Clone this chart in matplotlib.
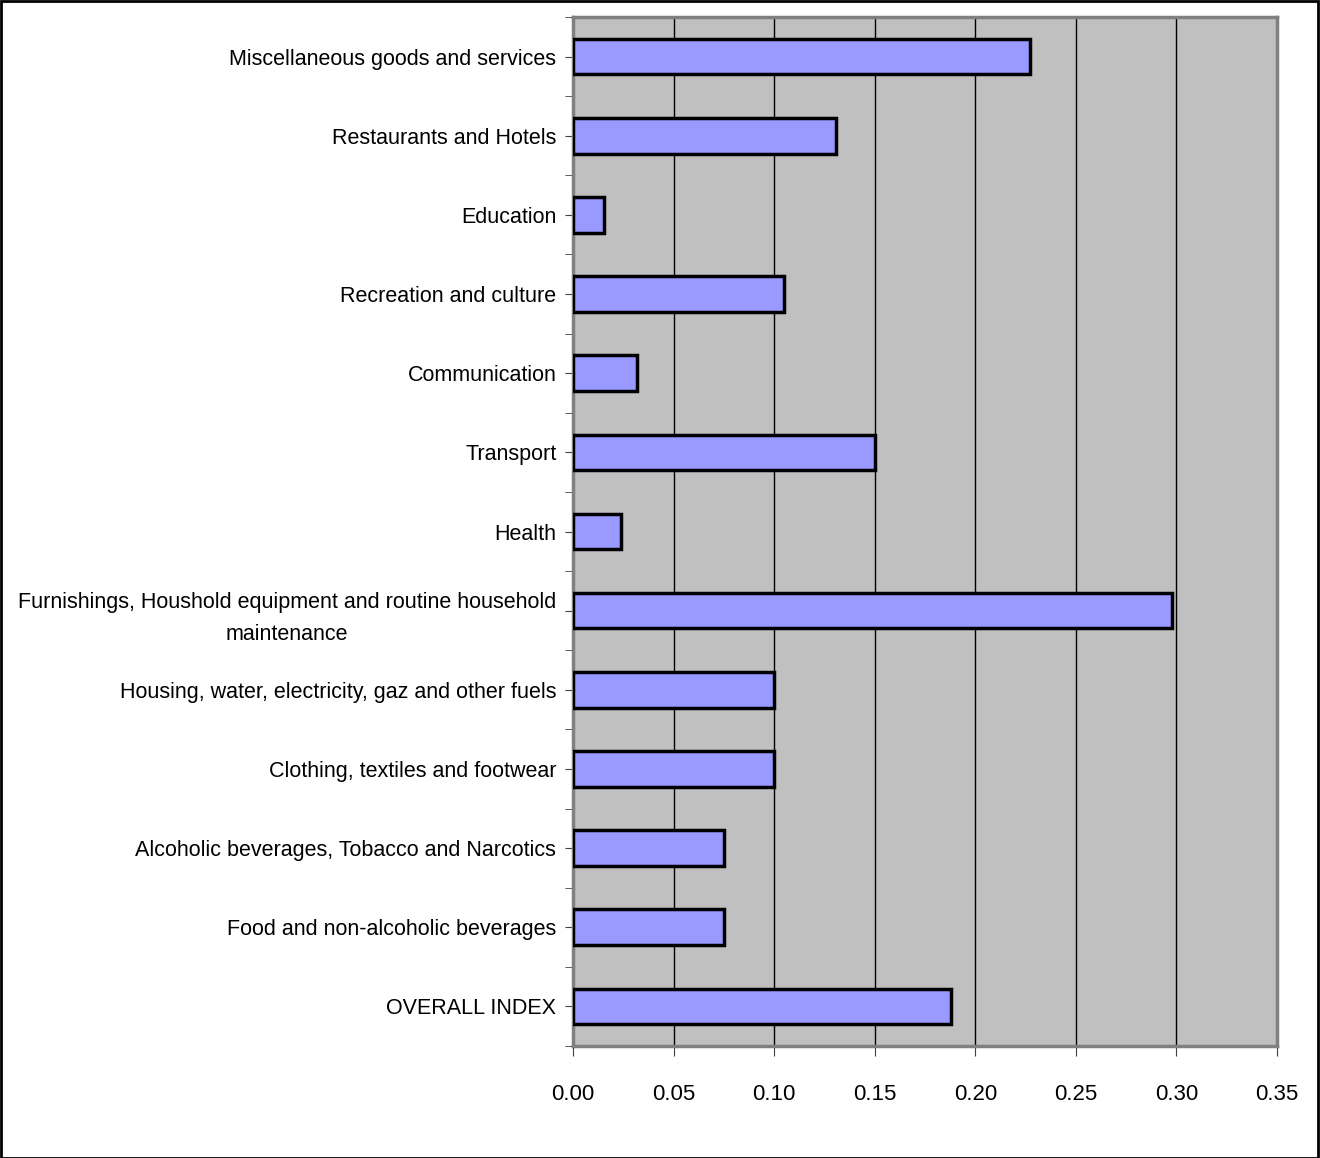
import numpy as np
import matplotlib
matplotlib.use("Agg")
import matplotlib.pyplot as plt
from matplotlib.patches import Rectangle

# categories from bottom to top
categories = [
    "OVERALL INDEX",
    "Food and non-alcoholic beverages",
    "Alcoholic beverages, Tobacco and Narcotics",
    "Clothing, textiles and footwear",
    "Housing, water, electricity, gaz and other fuels",
    "Furnishings, Houshold equipment and routine household\nmaintenance",
    "Health",
    "Transport",
    "Communication",
    "Recreation and culture",
    "Education",
    "Restaurants and Hotels",
    "Miscellaneous goods and services",
]
values = [0.188, 0.075, 0.075, 0.100, 0.100, 0.298, 0.024, 0.150,
          0.032, 0.105, 0.0155, 0.131, 0.227]
x_ticks = [0.00, 0.05, 0.10, 0.15, 0.20, 0.25, 0.30, 0.35]

plt.rcParams['font.family'] = ['Liberation Sans', 'DejaVu Sans']
fs = 15.5

fig = plt.figure(figsize=(13.2, 11.58), dpi=100)
ax = fig.add_axes([573/1320, 112/1158, 704/1320, 1029/1158])

pos = np.arange(len(categories))
ax.set_facecolor("#C0C0C0")
ax.barh(pos, values, height=0.45, color="#9999FF", edgecolor="black",
        linewidth=2.5, zorder=3)

ax.set_xlim(0, 0.35)
ax.set_ylim(-0.5, len(categories) - 0.5)
ax.set_xticks(x_ticks)
ax.set_xticklabels([f"{t:.2f}" for t in x_ticks], fontsize=16)
ax.set_yticks(pos)
ax.set_yticklabels(categories, fontsize=fs, multialignment="center", linespacing=1.7)
ax.set_yticks(np.arange(-0.5, len(categories), 1), minor=True)

ax.grid(axis="x", color="black", linewidth=1, zorder=1)
ax.set_axisbelow(True)

for s in ax.spines.values():
    s.set_color("#808080")
    s.set_linewidth(2.5)
ax.tick_params(axis="y", which="both", length=6, color="#404040", pad=6)
ax.tick_params(axis="x", length=7, color="#404040", pad=20)

fig.patches.append(Rectangle((0.0005, 0.0), 0.998, 0.999, transform=fig.transFigure,
                             fill=False, edgecolor="black", linewidth=2))

fig.savefig("out.png", dpi=100)
